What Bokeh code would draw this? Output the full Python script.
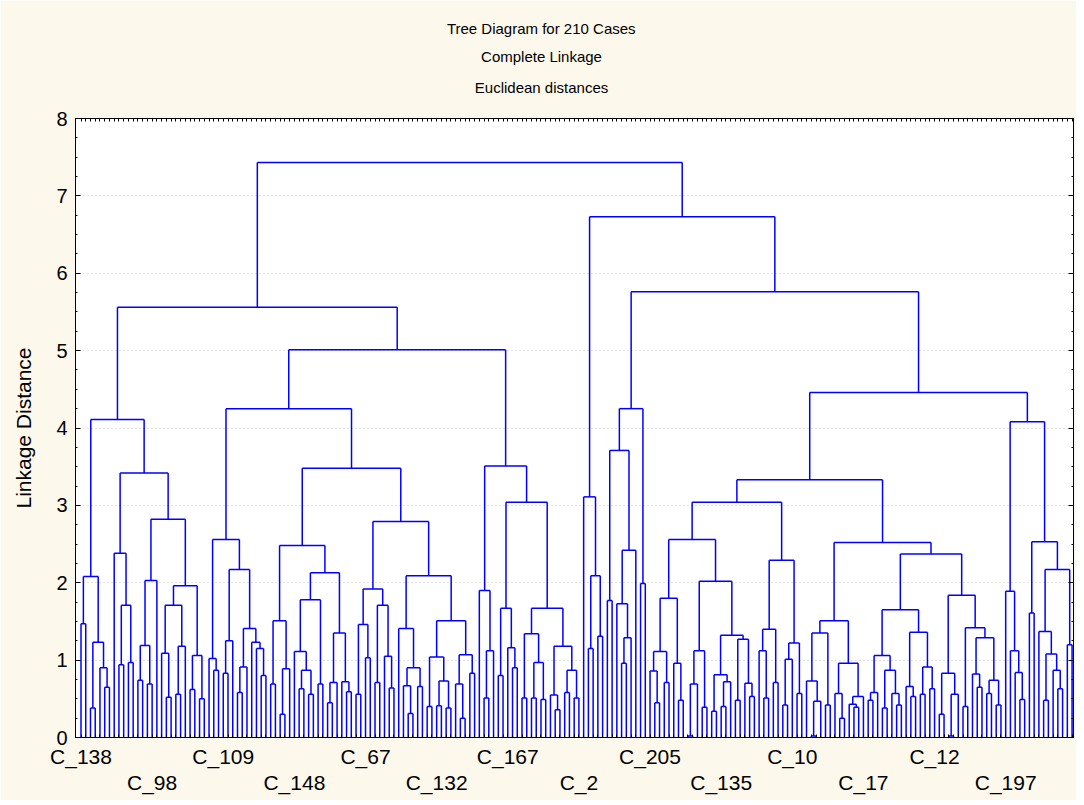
import re
from bokeh.plotting import figure
from bokeh.models import (Range1d, LinearAxis, FixedTicker, Title, ColumnDataSource)
from bokeh.embed import file_html
from bokeh.resources import INLINE

# ---------------- data: cluster tree, "(height left right)", "." = one case ----------------
cluster_1 = "(2.08 (1.47 . .) (1.23 (0.38 . .) (0.9 . (0.65 . .))))"
cluster_2a = "(2.38 . (1.71 (0.94 . .) (0.97 . .)))"
cluster_2b = ("(2.82 (2.03 (1.19 (0.74 . .) (0.69 . .)) .) (1.96 (1.71 (1.09 . (0.52 . .)) "
              "(1.18 (0.56 . .) .)) (1.06 (0.62 . .) (0.5 . .))))")
cluster_3 = "(2.56 (1.02 . (0.87 . .)) (2.17 (1.25 (0.83 . .) .) (1.41 (0.91 (0.58 . .) .) (1.23 . (1.15 . (0.8 . .))))))"
cluster_4a = ("(2.48 (1.51 (0.69 . .) (0.89 (0.3 . .) .)) (2.13 (1.78 (1.11 . (0.87 (0.63 . .) (0.56 . .))) "
              "(0.69 . .)) (1.35 (0.71 (0.45 . .) .) (0.72 . (0.59 . .)))))")
cluster_4b1 = "(1.92 (1.46 (0.56 . .) (1.03 . .)) (1.71 (0.71 . .) (1.05 . (0.64 . .))))"
cluster_4b2 = ("(2.09 (1.41 . (0.9 (0.67 . (0.31 . .)) (0.66 . .))) (1.51 (1.04 (0.4 . .) "
               "(0.73 (0.41 . .) (0.38 . .))) (1.07 (0.69 . (0.25 . .)) (0.83 . .))))")
cluster_5 = ("(3.51 (1.9 . (1.12 (0.51 . .) .)) (3.04 (1.67 (0.8 . .) (1.16 . (0.9 . .))) "
             "(1.67 (1.34 (0.51 . .) (0.97 (0.51 . .) (0.49 . .))) (1.18 (0.55 . (0.36 . .)) "
             "(0.87 (0.58 . .) (0.51 . .))))))")
cluster_6 = "(3.11 . (2.09 (1.15 . .) (1.31 . .)))"
cluster_7 = "(3.71 (1.77 . .) (2.42 (1.73 . (1.29 (0.96 . .) .)) .))"
cluster_8 = "(1.99 . .)"
cluster_9a = "(1.8 (1.11 (0.86 . (0.45 . .)) (0.71 . .)) (0.96 . (0.48 . .)))"
cluster_9b = ("(2.02 (1.12 (0.69 (0.02 . .) .) (0.39 . .)) (1.32 (0.81 (0.34 . .) (0.72 (0.4 . .) .)) "
              "(1.27 (0.48 . .) (0.7 . (0.53 . .)))))")
cluster_10 = "(2.29 (1.4 (1.12 . (0.51 . .)) (0.71 . .)) (1.22 (1.01 (0.42 . .) .) (0.57 . .)))"
cluster_11 = ("(1.51 (1.35 (0.73 . (0.47 (0.02 . .) .)) (0.42 . .)) (0.96 (0.57 . (0.25 . .)) "
              "(0.53 (0.43 . (0.39 . .)) .)))")
cluster_12a = ("(1.65 (1.06 (0.58 (0.48 . .) .) (0.87 (0.38 . .) (0.57 . (0.42 . .)))) "
               "(1.36 (0.66 . (0.53 . .)) (0.91 (0.56 . .) (0.63 . .))))")
cluster_12b = ("(1.84 (0.83 (0.3 . .) (0.56 (0.02 . .) .)) (1.42 (0.4 . .) (1.29 (0.82 . (0.65 . .)) "
               "(0.74 (0.57 . .) (0.42 . .)))))")
cluster_13 = ("(4.08 (1.89 . (1.12 . (0.84 . (0.49 . .)))) (2.53 (1.61 . .) (2.17 (1.37 . (1.08 (0.48 . .) "
              "(0.87 . (0.63 . .)))) (1.2 . .))))")

left_tree = (f"(5.56 (4.11 {cluster_1} (3.42 {cluster_2a} {cluster_2b})) "
             f"(5.01 (4.25 {cluster_3} (3.48 {cluster_4a} (2.79 {cluster_4b1} {cluster_4b2}))) {cluster_5}))")
right_tree = (f"(6.73 {cluster_6} (5.76 (4.25 {cluster_7} {cluster_8}) "
              f"(4.46 (3.33 (3.04 (2.56 {cluster_9a} {cluster_9b}) {cluster_10}) "
              f"(2.52 {cluster_11} (2.37 {cluster_12a} {cluster_12b}))) {cluster_13})))")
full_tree = f"(7.43 {left_tree} {right_tree})"

n_cases = 210
labels_row1 = ["C_138", "C_109", "C_67", "C_167", "C_205", "C_10", "C_12"]
label_pos_row1 = [1, 31, 61, 91, 121, 151, 181]
labels_row2 = ["C_98", "C_148", "C_132", "C_2", "C_135", "C_17", "C_197"]
label_pos_row2 = [16, 46, 76, 106, 136, 166, 196]

title_lines = ["Tree Diagram for 210 Cases", "Complete Linkage", "Euclidean distances"]
y_label = "Linkage Distance"

# ---------------- build the dendrogram geometry ----------------
tokens = re.findall(r"\(|\)|\d+(?:\.\d+)?|\.", full_tree)


def build(i):
    t = tokens[i]
    if t == ".":
        return None, i + 1
    h = float(tokens[i + 1])
    a, j = build(i + 2)
    b, j = build(j)
    return (h, a, b), j + 1


tree, _ = build(0)

x0s, y0s, x1s, y1s = [], [], [], []
counter = [0]


def place(node):
    if node is None:
        counter[0] += 1
        return float(counter[0]), 0.0
    h, a, b = node
    xa, ha = place(a)
    xb, hb = place(b)
    x0s.extend([xa, xb, xa]); y0s.extend([ha, hb, h])
    x1s.extend([xa, xb, xb]); y1s.extend([h, h, h])
    return (xa + xb) / 2.0, h


place(tree)
src = ColumnDataSource(dict(x0=x0s, y0=y0s, x1=x1s, y1=y1s))

# ---------------- figure ----------------
FONT = "Liberation Sans"
TITLE_SIZE = 15
BG = "#FDF8EC"
FRAME_LEFT = 75
PAGE_CENTER = 541

p = figure(width=1076, height=800, x_range=Range1d(-0.16, 210.3), y_range=Range1d(0, 8),
           output_backend="svg", toolbar_location=None,
           min_border_left=FRAME_LEFT, min_border_right=3, min_border_top=118, min_border_bottom=63,
           background_fill_color="white", border_fill_color=BG)
p.outline_line_color = "black"
p.outline_line_width = 1

p.segment("x0", "y0", "x1", "y1", source=src, line_color="#0000FF", line_width=1.5)

leaf_ticks = FixedTicker(ticks=list(range(1, n_cases + 1)))
y_ticker = FixedTicker(ticks=list(range(0, 9)), minor_ticks=[i * 0.25 for i in range(33)])

# bottom axis: leaf ticks + first label row
xa = p.xaxis[0]
xa.ticker = leaf_ticks
ov1 = {k: "" for k in range(1, n_cases + 1)}
for pos, lab in zip(label_pos_row1, labels_row1):
    ov1[pos] = lab
xa.major_label_overrides = ov1
xa.major_tick_in = 3
xa.major_tick_out = 0
xa.minor_tick_line_color = None
xa.major_label_standoff = 7
xa.major_label_text_font = FONT
xa.major_label_text_font_size = "21px"
xa.major_label_text_color = "black"
xa.axis_line_color = "black"

# second label row
xb = LinearAxis(ticker=FixedTicker(ticks=label_pos_row2),
                major_label_overrides={pos: lab for pos, lab in zip(label_pos_row2, labels_row2)},
                axis_line_color=None, major_tick_line_color=None, minor_tick_line_color=None,
                major_tick_in=0, major_tick_out=0, major_label_standoff=0,
                major_label_text_font=FONT, major_label_text_font_size="21px",
                major_label_text_color="black")
p.add_layout(xb, "below")

# top axis (ticks only)
xt = LinearAxis(ticker=leaf_ticks, major_label_overrides={k: "" for k in range(1, n_cases + 1)},
                major_tick_in=3, major_tick_out=0, minor_tick_line_color=None,
                major_label_standoff=0, axis_line_color="black")
p.add_layout(xt, "above")

# left axis
ya = p.yaxis[0]
ya.ticker = y_ticker
ya.major_tick_in = 5
ya.major_tick_out = 0
ya.minor_tick_in = 2
ya.minor_tick_out = 0
ya.major_label_standoff = 8
ya.major_label_text_font = FONT
ya.major_label_text_font_size = "20px"
ya.major_label_text_color = "black"
ya.axis_label = y_label
ya.axis_label_text_font = FONT
ya.axis_label_text_font_size = "21px"
ya.axis_label_text_font_style = "normal"
ya.axis_label_text_color = "black"
ya.axis_label_standoff = 18
ya.axis_line_color = "black"

# right axis (ticks only)
yr = LinearAxis(ticker=y_ticker, major_label_overrides={k: "" for k in range(0, 9)},
                major_tick_in=5, major_tick_out=0, minor_tick_in=2, minor_tick_out=0,
                major_label_standoff=0, axis_line_color="black")
p.add_layout(yr, "right")

p.xgrid.visible = False
p.ygrid.ticker = FixedTicker(ticks=list(range(1, 8)))
p.ygrid.grid_line_color = "#C8C8C8"
p.ygrid.grid_line_dash = "1 3"

# ---------------- titles: three lines centred on the page ----------------
ARIAL_W = {"T": 611, "r": 333, "e": 556, " ": 278, "D": 722, "i": 222, "a": 556, "g": 556,
           "m": 833, "f": 278, "o": 556, "2": 556, "1": 556, "0": 556, "C": 722, "s": 500,
           "p": 556, "l": 222, "t": 278, "L": 556, "n": 556, "k": 500, "E": 667, "u": 556,
           "c": 500, "d": 556}


def text_width(txt):
    return sum(ARIAL_W.get(ch, 556) for ch in txt) / 1000.0 * TITLE_SIZE


# spacer between the frame and the first title line
p.add_layout(Title(text=" ", text_font_size="1px", standoff=14), "above")
for txt, so in zip(reversed(title_lines), [12, 12, 6]):
    off = PAGE_CENTER - text_width(txt) / 2.0 - FRAME_LEFT
    p.add_layout(Title(text=txt, align="left", offset=off, text_font=FONT,
                       text_font_size=f"{TITLE_SIZE}px", text_font_style="normal",
                       text_color="black", standoff=so), "above")

open("out.html", "w").write(file_html(p, INLINE))
